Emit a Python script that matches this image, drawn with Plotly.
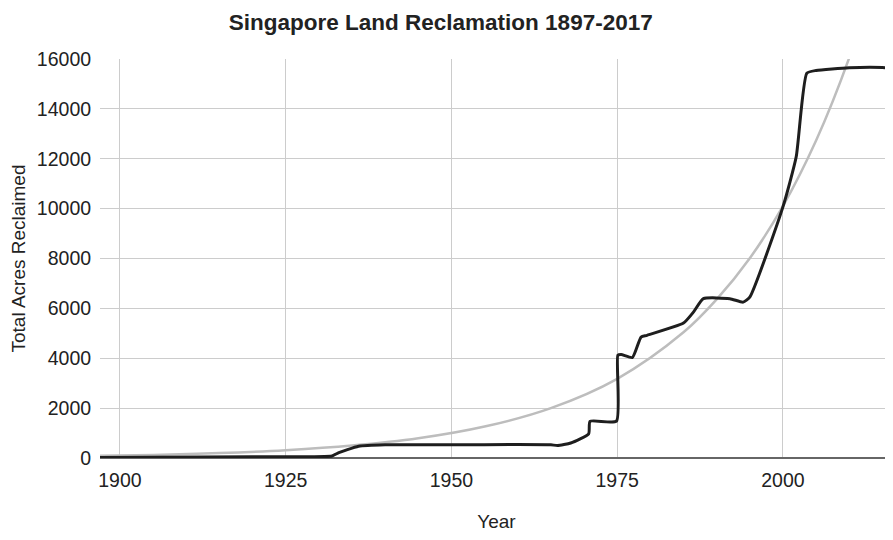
import plotly.graph_objects as go

# ── Data ──────────────────────────────────────────────────────────────────────
YEARS = [1897, 1920, 1932, 1932.8, 1936, 1940, 1950, 1960, 1965, 1966, 1968,
         1970.7, 1970.9, 1974.9, 1975.1, 1975.6, 1977.3, 1978.6, 1979.5, 1985,
         1986.5, 1988, 1992, 1994, 1995, 2000, 2002, 2003.6, 2005, 2010, 2015, 2017]
ACRES = [20, 50, 80, 190, 470, 530, 530, 540, 530, 500, 600,
         970, 1470, 1480, 4120, 4150, 4030, 4850, 4920, 5410,
         5850, 6390, 6390, 6250, 6450, 10070, 12080, 15430, 15540, 15650, 15660, 15610]

# exponential trend line
TREND_YEARS = [1897, 1905, 1915, 1925, 1935, 1945, 1955, 1965, 1975, 1985,
               1990, 1995, 2000, 2005, 2010, 2015, 2017]
TREND_ACRES = [86, 124, 197, 314, 498, 789, 1260, 2000, 3175, 5040,
               6360, 8010, 10100, 12730, 16050, 20200, 22190]

X_TICKS = [1900, 1925, 1950, 1975, 2000]
Y_TICKS = list(range(0, 16001, 2000))

FONT = "Liberation Sans, Arial, sans-serif"

fig = go.Figure()
fig.add_trace(go.Scatter(
    x=TREND_YEARS, y=TREND_ACRES,
    mode="lines",
    line=dict(color="#bdbdbd", width=2.5, shape="spline", smoothing=1.0),
    showlegend=False,
))
fig.add_trace(go.Scatter(
    x=YEARS, y=ACRES,
    mode="lines",
    line=dict(color="#1e1e1e", width=3, shape="spline", smoothing=0.5),
    showlegend=False,
))

# the page adds an 8px body margin, so the figure is sized to fit inside it
fig.update_layout(
    width=885, height=524,
    paper_bgcolor="white",
    plot_bgcolor="white",
    font=dict(family=FONT, color="#222222", size=19),
    margin=dict(l=92, r=0, t=51, b=74),
    title=dict(
        text="<b>Singapore Land Reclamation 1897-2017</b>",
        font=dict(family=FONT, size=22.5, color="#222222"),
        x=0.489, xanchor="center", y=0.973, yanchor="middle",
    ),
    xaxis=dict(
        range=[1897, 2016.6],
        tickvals=X_TICKS,
        ticks="outside", ticklen=5, tickcolor="rgba(0,0,0,0)",
        showgrid=True, gridcolor="#cccccc", gridwidth=1,
        zeroline=False, showline=False,
        tickfont=dict(size=19.5),
        automargin=False,
        title=dict(text="Year", font=dict(size=19), standoff=33),
    ),
    yaxis=dict(
        range=[0, 16000],
        tickvals=Y_TICKS,
        tickformat="d",
        ticks="outside", ticklen=4, tickcolor="rgba(0,0,0,0)",
        showgrid=True, gridcolor="#cccccc", gridwidth=1,
        zeroline=True, zerolinecolor="#666666", zerolinewidth=1.5,
        showline=False,
        tickfont=dict(size=19.5),
        automargin=False,
        title=dict(text="Total Acres Reclaimed", font=dict(size=19), standoff=6),
    ),
)

fig.write_html("out.html")
